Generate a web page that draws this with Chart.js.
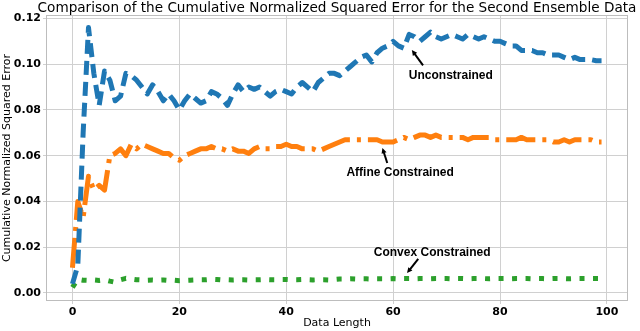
<!DOCTYPE html>
<html>
<head>
<meta charset="utf-8">
<script src="https://cdn.jsdelivr.net/npm/chart.js@4"></script>
<style>
  html, body { margin: 0; padding: 0; background: #fff; }
  #wrap { width: 640px; height: 331px; }
</style>
</head>
<body>
<div id="wrap"><canvas id="chart"></canvas></div>
<script>
// values, one per data length 0..99
const unconstrained = [
  0.004, 0.012, 0.070, 0.116, 0.096, 0.082, 0.097, 0.093, 0.084, 0.086,
  0.096, 0.095, 0.093, 0.090, 0.087, 0.091, 0.088, 0.084, 0.087, 0.084,
  0.080, 0.084, 0.087, 0.085, 0.083, 0.084, 0.088, 0.087, 0.085, 0.082,
  0.087, 0.091, 0.088, 0.090, 0.089, 0.090, 0.088, 0.086, 0.088, 0.089,
  0.088, 0.087, 0.090, 0.092, 0.090, 0.088, 0.092, 0.094, 0.096, 0.096,
  0.095, 0.097, 0.099, 0.101, 0.103, 0.104, 0.101, 0.105, 0.107, 0.108,
  0.110, 0.108, 0.107, 0.113, 0.112, 0.110, 0.112, 0.114, 0.112, 0.111,
  0.112, 0.113, 0.112, 0.111, 0.113, 0.112, 0.111, 0.112, 0.111, 0.110,
  0.110, 0.109, 0.108, 0.108, 0.106, 0.106, 0.106, 0.105, 0.105, 0.104,
  0.104, 0.104, 0.103, 0.102, 0.103, 0.102, 0.102, 0.102, 0.1015, 0.1015
];
const affineConstrained = [
  0.011, 0.040, 0.033, 0.051, 0.045, 0.047, 0.045, 0.060, 0.061, 0.063,
  0.060, 0.065, 0.063, 0.065, 0.064, 0.063, 0.062, 0.061, 0.061, 0.059,
  0.058, 0.060, 0.061, 0.062, 0.063, 0.063, 0.064, 0.063, 0.063, 0.062,
  0.063, 0.062, 0.062, 0.061, 0.063, 0.064, 0.063, 0.063, 0.064, 0.064,
  0.065, 0.064, 0.064, 0.063, 0.063, 0.063, 0.062, 0.063, 0.064, 0.065,
  0.066, 0.067, 0.067, 0.067, 0.067, 0.067, 0.067, 0.067, 0.066, 0.066,
  0.066, 0.067, 0.068, 0.067, 0.068, 0.069, 0.069, 0.068, 0.069, 0.068,
  0.068, 0.068, 0.068, 0.068, 0.067, 0.068, 0.068, 0.068, 0.068, 0.067,
  0.067, 0.067, 0.067, 0.067, 0.068, 0.067, 0.067, 0.067, 0.067, 0.067,
  0.066, 0.066, 0.067, 0.066, 0.067, 0.067, 0.067, 0.067, 0.066, 0.066
];
const convexConstrained = [
  0.0025, 0.0060, 0.0056, 0.0055, 0.0057, 0.0055, 0.0058, 0.0052, 0.0047, 0.0058,
  0.0064, 0.0061, 0.0058, 0.0057, 0.0056, 0.0057, 0.0056, 0.0057, 0.0055, 0.0056,
  0.0054, 0.0055, 0.0056, 0.0057, 0.0058, 0.0058, 0.0060, 0.0059, 0.0057, 0.0058,
  0.0057, 0.0058, 0.0058, 0.0057, 0.0058, 0.0058, 0.0059, 0.0058, 0.0058, 0.0059,
  0.0059, 0.0058, 0.0058, 0.0059, 0.0058, 0.0057, 0.0058, 0.0058, 0.0057, 0.0059,
  0.0061, 0.0061, 0.0062, 0.0061, 0.0062, 0.0062, 0.0061, 0.0062, 0.0062, 0.0062,
  0.0063, 0.0062, 0.0063, 0.0063, 0.0062, 0.0063, 0.0063, 0.0062, 0.0063, 0.0063,
  0.0063, 0.0062, 0.0063, 0.0063, 0.0062, 0.0063, 0.0063, 0.0063, 0.0062, 0.0063,
  0.0063, 0.0063, 0.0062, 0.0063, 0.0063, 0.0063, 0.0062, 0.0063, 0.0063, 0.0062,
  0.0063, 0.0063, 0.0063, 0.0062, 0.0063, 0.0063, 0.0063, 0.0063, 0.0063, 0.0063
];
const dataLength = unconstrained.map((_, i) => i);

const xTicks = [0, 20, 40, 60, 80, 100];
const yTicks = [0, 0.02, 0.04, 0.06, 0.08, 0.10, 0.12];

const titleText = 'Comparison of the Cumulative Normalized Squared Error for the Second Ensemble Data';

// label text centre, arrow tail and arrow tip, all in data units
const notes = [
  { text: 'Unconstrained', x: 70.8, y: 0.0948, tailX: 65.6, tailY: 0.0995, tipX: 63.5, tipY: 0.1062 },
  { text: 'Affine Constrained', x: 61.3, y: 0.0524, tailX: 58.9, tailY: 0.0568, tipX: 58.0, tipY: 0.0634 },
  { text: 'Convex Constrained', x: 67.3, y: 0.0175, tailX: 64.7, tailY: 0.0149, tipX: 62.6, tipY: 0.0087 }
];

const gridColor = '#d0d0d0';
const tickFont = { family: 'DejaVu Sans', size: 11, weight: 'bold' };
const labelFont = { family: 'DejaVu Sans', size: 11 };

const toPoints = vals => vals.map((v, i) => ({ x: dataLength[i], y: v }));

const framePlugin = {
  id: 'frame',
  beforeDatasetsDraw(chart) {
    const { ctx, chartArea: a } = chart;
    ctx.save();
    ctx.strokeStyle = '#bdbdbd';
    ctx.lineWidth = 1;
    ctx.strokeRect(a.left + 0.5, a.top + 0.5, a.right - a.left - 1, a.bottom - a.top - 1);
    ctx.restore();
  },
  afterDraw(chart) {
    const { ctx, chartArea: a } = chart;
    ctx.save();
    ctx.font = '13.6px "DejaVu Sans"';
    ctx.fillStyle = '#000';
    ctx.textAlign = 'center';
    ctx.textBaseline = 'middle';
    ctx.fillText(titleText, (a.left + a.right) / 2, 8);
    ctx.restore();
  }
};

const notePlugin = {
  id: 'notes',
  afterDatasetsDraw(chart) {
    const { ctx, scales: { x, y } } = chart;
    ctx.save();
    ctx.fillStyle = '#000';
    ctx.strokeStyle = '#000';
    ctx.font = 'bold 12px "Liberation Sans"';
    ctx.textAlign = 'center';
    ctx.textBaseline = 'middle';
    notes.forEach(n => {
      ctx.fillText(n.text, x.getPixelForValue(n.x), y.getPixelForValue(n.y));
      const x0 = x.getPixelForValue(n.tailX), y0 = y.getPixelForValue(n.tailY);
      const x1 = x.getPixelForValue(n.tipX), y1 = y.getPixelForValue(n.tipY);
      const ang = Math.atan2(y1 - y0, x1 - x0);
      const head = 6;
      ctx.lineWidth = 2;
      ctx.beginPath();
      ctx.moveTo(x0, y0);
      ctx.lineTo(x1 - Math.cos(ang) * head * 0.8, y1 - Math.sin(ang) * head * 0.8);
      ctx.stroke();
      ctx.beginPath();
      ctx.moveTo(x1, y1);
      ctx.lineTo(x1 - head * Math.cos(ang - 0.45), y1 - head * Math.sin(ang - 0.45));
      ctx.lineTo(x1 - head * Math.cos(ang + 0.45), y1 - head * Math.sin(ang + 0.45));
      ctx.closePath();
      ctx.fill();
    });
    ctx.restore();
  }
};

new Chart(document.getElementById('chart').getContext('2d'), {
  type: 'line',
  data: {
    datasets: [
      {
        label: 'Unconstrained',
        data: toPoints(unconstrained),
        borderColor: '#1f77b4',
        borderWidth: 5,
        borderDash: [14, 7],
        borderCapStyle: 'butt',
        borderJoinStyle: 'round'
      },
      {
        label: 'Affine Constrained',
        data: toPoints(affineConstrained),
        borderColor: '#ff7f0e',
        borderWidth: 5,
        borderDash: [30, 7, 4, 7],
        borderCapStyle: 'butt',
        borderJoinStyle: 'round'
      },
      {
        label: 'Convex Constrained',
        data: toPoints(convexConstrained),
        borderColor: '#2ca02c',
        borderWidth: 5,
        borderDash: [5, 8.5],
        borderCapStyle: 'butt',
        borderJoinStyle: 'round'
      }
    ]
  },
  options: {
    responsive: true,
    maintainAspectRatio: false,
    animation: false,
    layout: { padding: { top: 15, right: 12, left: 0, bottom: 0 } },
    elements: { point: { radius: 0 }, line: { tension: 0 } },
    plugins: { legend: { display: false }, tooltip: { enabled: false } },
    scales: {
      x: {
        type: 'linear',
        min: -4.95,
        max: 103.95,
        afterBuildTicks: s => { s.ticks = xTicks.map(v => ({ value: v })); },
        afterFit: s => { s.height = 30; },
        grid: { color: gridColor, tickLength: 3, tickColor: gridColor },
        border: { display: false },
        ticks: { font: tickFont, color: '#000', padding: 2, maxRotation: 0 },
        title: { display: true, text: 'Data Length', font: labelFont, color: '#000', padding: { top: 0, bottom: 1 } }
      },
      y: {
        min: -0.0035,
        max: 0.1215,
        afterBuildTicks: s => { s.ticks = yTicks.map(v => ({ value: v })); },
        afterFit: s => { s.width = 46; },
        grid: { color: gridColor, tickLength: 3, tickColor: gridColor },
        border: { display: false },
        ticks: { font: tickFont, color: '#000', padding: 2, callback: v => v.toFixed(2) },
        title: { display: true, text: 'Cumulative Normalized Squared Error', font: labelFont, color: '#000', padding: { top: 1, bottom: 0 } }
      }
    }
  },
  plugins: [framePlugin, notePlugin]
});
</script>
</body>
</html>
